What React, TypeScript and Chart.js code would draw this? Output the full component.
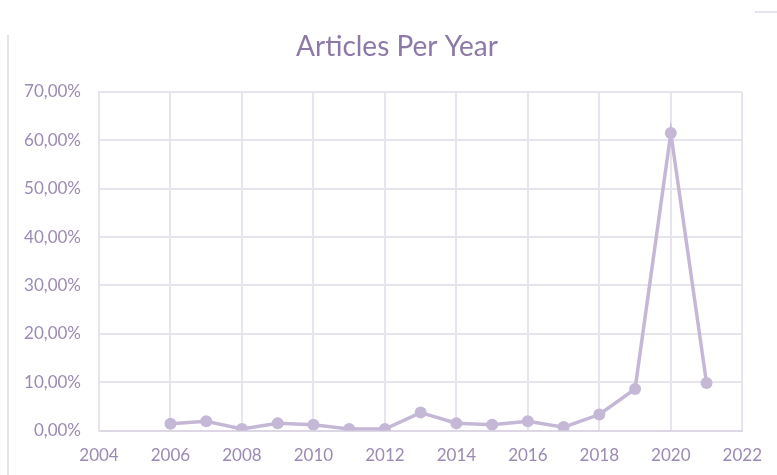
import React, { useEffect, useRef } from "react";
import { Chart, registerables } from "chart.js";

Chart.register(...registerables);

const years = [2006, 2007, 2008, 2009, 2010, 2011, 2012, 2013, 2014, 2015, 2016, 2017, 2018, 2019, 2020, 2021];
const shares = [1.4, 1.9, 0.3, 1.5, 1.2, 0.3, 0.3, 3.7, 1.5, 1.2, 1.9, 0.7, 3.3, 8.6, 61.5, 9.8];
const titleText = "Articles Per Year";
const xMin = 2004;
const xMax = 2022;
const yMin = 0;
const yMax = 70;

const FONT = "Lato, 'Open Sans', sans-serif";
const LINE = "#c4b8d6";
const GRID = "#e8e4ee";
const TICK = "#9b8ab4";
const TITLE = "#8c79a8";

const titlePlugin = {
  id: "customTitle",
  afterDraw(chart: any) {
    const ctx = chart.ctx;
    ctx.save();
    ctx.font = `28px ${FONT}`;
    ctx.fillStyle = TITLE;
    ctx.textAlign = "center";
    ctx.textBaseline = "middle";
    ctx.fillText(titleText, 397, 47);
    ctx.restore();
  },
};

export default function App() {
  const ref = useRef<HTMLCanvasElement | null>(null);

  useEffect(() => {
    if (!ref.current) return;
    const chart = new Chart(ref.current, {
      type: "line",
      data: {
        datasets: [
          {
            data: years.map((y, i) => ({ x: y, y: shares[i] })),
            borderColor: LINE,
            backgroundColor: LINE,
            borderWidth: 3.5,
            pointRadius: 6,
            pointBackgroundColor: LINE,
            pointBorderColor: LINE,
            pointBorderWidth: 0,
            tension: 0,
          },
        ],
      },
      options: {
        animation: false,
        responsive: false,
        maintainAspectRatio: false,
        layout: { padding: { left: 0, right: 31, top: 92, bottom: 0 } },
        plugins: {
          legend: { display: false },
          tooltip: { enabled: false },
          title: { display: false },
        },
        scales: {
          x: {
            type: "linear",
            min: xMin,
            max: xMax,
            afterFit: (s: any) => {
              s.height = 44.5;
            },
            ticks: {
              stepSize: 2,
              color: TICK,
              font: { family: FONT, size: 17 },
              padding: 15,
              maxRotation: 0,
              callback: (v: any) => String(v),
            },
            grid: { color: GRID, lineWidth: 2, drawTicks: false },
            border: { color: "#ddd7e5", width: 2 },
          },
          y: {
            min: yMin,
            max: yMax,
            afterFit: (s: any) => {
              s.width = 99;
            },
            ticks: {
              stepSize: 10,
              color: TICK,
              font: { family: FONT, size: 17 },
              padding: 18,
              callback: (v: any) => Number(v).toFixed(2).replace(".", ",") + "%",
            },
            grid: { color: GRID, lineWidth: 2, drawTicks: false },
            border: { color: GRID, width: 2 },
          },
        },
      },
      plugins: [titlePlugin],
    });
    return () => chart.destroy();
  }, []);

  return (
    <div style={{ position: "fixed", left: 0, top: 0, width: 777, height: 475, background: "#fff" }}>
      <div style={{ position: "absolute", left: 7, top: 35, width: 2, height: 440, background: "#e6e3ea" }} />
      <div style={{ position: "absolute", left: 755, top: 11, width: 22, height: 2, background: "#e6e3ea" }} />
      <canvas ref={ref} width={777} height={475} style={{ position: "absolute", left: 0, top: 0 }} />
    </div>
  );
}
